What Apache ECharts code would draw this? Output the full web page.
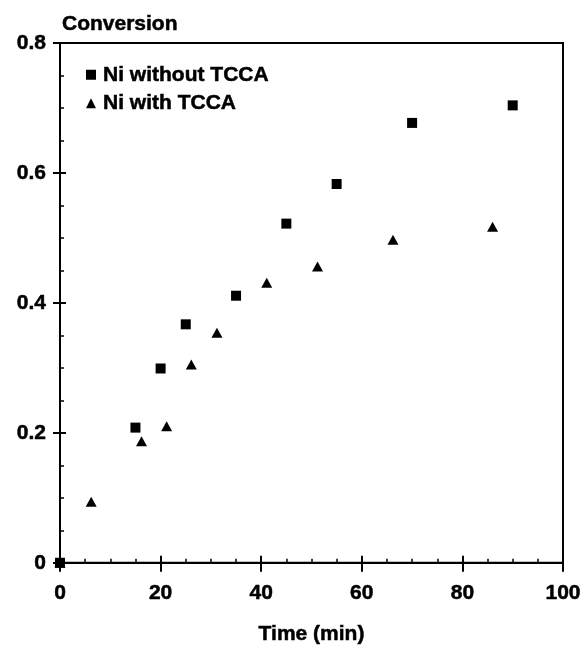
<!DOCTYPE html>
<html>
<head>
<meta charset="utf-8">
<script src="https://cdn.jsdelivr.net/npm/echarts@6/dist/echarts.min.js"></script>
<style>
html,body{margin:0;padding:0;background:#fff;}
#chart{width:586px;height:650px;}
</style>
</head>
<body>
<div id="chart"></div>
<script>
// Data
const seriesNames = ['Ni without TCCA', 'Ni with TCCA'];
const timeWithout = [0, 15, 20, 25, 35, 45, 55, 70, 90];
const convWithout = [0, 0.208, 0.299, 0.367, 0.411, 0.522, 0.583, 0.677, 0.704];
const timeWith = [0, 6.2, 16.2, 21.2, 26.1, 31.2, 41.1, 51.2, 66.2, 86];
const convWith = [0, 0.094, 0.187, 0.210, 0.305, 0.354, 0.431, 0.456, 0.497, 0.517];
const xTicks = [0, 20, 40, 60, 80, 100];
const yTicks = [0, 0.2, 0.4, 0.6, 0.8];

const FONT = "'Liberation Sans', Arial, Helvetica, sans-serif";
const pairs = (xs, ys) => xs.map((x, i) => [x, ys[i]]);
const txt = (size) => ({fontFamily: FONT, fontWeight: 'bold', fontSize: size, color: '#000', textBorderColor: '#000', textBorderWidth: 0.5});

const chart = echarts.init(document.getElementById('chart'), null, {renderer: 'canvas'});
const axisLineStyle = {color: '#000', width: 2};

chart.setOption({
  animation: false,
  backgroundColor: '#fff',
  grid: {left: 60, right: 23, top: 43, bottom: 80, show: true, borderColor: '#000', borderWidth: 2, backgroundColor: 'transparent'},
  legend: {
    orient: 'vertical', left: 81, top: 59,
    itemWidth: 10, itemHeight: 10, itemGap: 7,
    textStyle: Object.assign(txt(21), {lineHeight: 21, padding: [0,0,0,2]}),
    data: [{name: seriesNames[0], icon: 'rect'}, {name: seriesNames[1], icon: 'triangle'}]
  },
  xAxis: [{
    type: 'value', min: xTicks[0], max: xTicks[xTicks.length-1], interval: xTicks[1]-xTicks[0],
    position: 'bottom',
    name: 'Time (min)', nameLocation: 'middle', nameGap: 61,
    nameTextStyle: txt(21),
    axisLine: {show: true, lineStyle: axisLineStyle},
    axisTick: {show: true, inside: false, length: 9, lineStyle: {color: '#000', width: 2}},
    axisLabel: Object.assign(txt(21), {margin: 20}),
    splitLine: {show: false}
  }, {
    type: 'value', min: xTicks[0], max: xTicks[xTicks.length-1], interval: xTicks[1]-xTicks[0],
    position: 'bottom',
    axisLine: {show: false},
    axisTick: {show: true, inside: true, length: 7, lineStyle: {color: '#000', width: 2}},
    minorTick: {show: true, splitNumber: 4, length: 4, lineStyle: {color: '#000', width: 1.5}},
    axisLabel: {show: false},
    splitLine: {show: false}
  }],
  yAxis: [{
    type: 'value', min: yTicks[0], max: yTicks[yTicks.length-1], interval: yTicks[1]-yTicks[0],
    position: 'left',
    name: 'Conversion', nameLocation: 'end', nameGap: 19,
    nameTextStyle: Object.assign(txt(21), {align: 'left', verticalAlign: 'middle', padding: [0,0,0,2]}),
    axisLine: {show: true, lineStyle: axisLineStyle},
    axisTick: {show: true, inside: false, length: 7, lineStyle: {color: '#000', width: 2}},
    axisLabel: Object.assign(txt(21), {margin: 14}),
    splitLine: {show: false}
  }, {
    type: 'value', min: yTicks[0], max: yTicks[yTicks.length-1], interval: yTicks[1]-yTicks[0],
    position: 'left',
    axisLine: {show: false},
    axisTick: {show: true, inside: true, length: 6, lineStyle: {color: '#000', width: 2}},
    minorTick: {show: true, splitNumber: 4, length: 4, lineStyle: {color: '#000', width: 1.5}},
    axisLabel: {show: false},
    splitLine: {show: false}
  }],
  series: [{
    name: seriesNames[0], type: 'scatter', xAxisIndex: 0, yAxisIndex: 0,
    symbol: 'rect', symbolSize: 10, itemStyle: {color: '#000', opacity: 1},
    data: pairs(timeWithout, convWithout)
  }, {
    name: seriesNames[1], type: 'scatter', xAxisIndex: 0, yAxisIndex: 0,
    symbol: 'triangle', symbolSize: [11, 10], itemStyle: {color: '#000', opacity: 1},
    data: pairs(timeWith, convWith)
  }]
});
</script>
</body>
</html>
